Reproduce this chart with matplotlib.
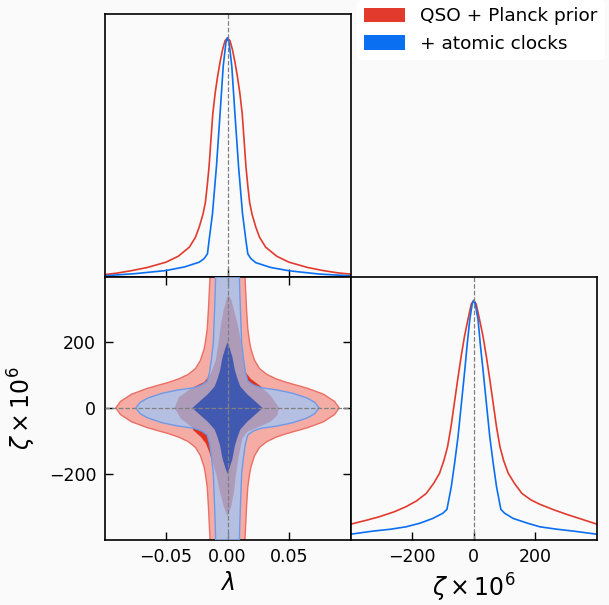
import numpy as np
import matplotlib
matplotlib.use('Agg')
import matplotlib.pyplot as plt
from matplotlib.patches import Patch

# colours
red_line = '#e23b2e'
blue_line = '#0a6ff0'
red_outer_fill = '#f4aca5'
red_outer_edge = '#ec6e64'
red_inner_fill = '#e0331f'
blue_outer_fill = '#99c8fc'
blue_outer_edge = '#6f9ae8'
blue_inner_fill = '#4259b1'
bg = '#fafafa'

labels = ['QSO + Planck prior', '+ atomic clocks']

# 1D marginal of lambda
lam_red = [-0.100, -0.090, -0.0775, -0.065, -0.050, -0.040, -0.031, -0.026, -0.023, -0.020,
           -0.018, -0.0165, -0.015, -0.0135, -0.012, -0.010, -0.008, -0.006, -0.004, -0.002,
           0.000,
           0.002, 0.004, 0.006, 0.008, 0.010, 0.012, 0.0135, 0.015, 0.0165, 0.018,
           0.020, 0.023, 0.026, 0.031, 0.040, 0.050, 0.065, 0.0775, 0.090, 0.100]
p_lam_red = [0.008, 0.014, 0.025, 0.038, 0.060, 0.085, 0.123, 0.165, 0.207, 0.260,
             0.310, 0.380, 0.460, 0.570, 0.680, 0.770, 0.840, 0.900, 0.951, 0.988,
             1.000,
             0.988, 0.951, 0.900, 0.840, 0.770, 0.680, 0.570, 0.460, 0.380, 0.310,
             0.260, 0.207, 0.165, 0.123, 0.085, 0.060, 0.038, 0.025, 0.015, 0.010]

lam_blue = [-0.100, -0.075, -0.050, -0.035, -0.023, -0.019, -0.0163, -0.0150, -0.0122,
            -0.0090, -0.0062, -0.0035, -0.0013, 0.000, 0.0013, 0.0035, 0.0062, 0.0090,
            0.0122, 0.0150, 0.0165, 0.019, 0.023, 0.035, 0.050, 0.075, 0.100]
p_lam_blue = [0.003, 0.012, 0.025, 0.040, 0.060, 0.075, 0.095, 0.150, 0.264,
              0.460, 0.670, 0.880, 0.980, 1.000, 0.980, 0.880, 0.670, 0.460,
              0.264, 0.150, 0.095, 0.075, 0.058, 0.038, 0.024, 0.010, 0.003]

# 1D marginal of zeta x 1e6
zeta_red = [-400, -350, -307, -260, -220, -185, -154, -130, -111, -97, -85, -74, -63,
            -52, -41, -30, -19, -8, 0,
            8, 19, 30, 41, 52, 63, 74, 85, 97, 112, 132, 156, 185, 215, 260, 302, 350, 400]
p_zeta_red = [0.064, 0.080, 0.095, 0.115, 0.137, 0.162, 0.193, 0.235, 0.277, 0.330, 0.388,
              0.470, 0.570, 0.670, 0.765, 0.850, 0.919, 0.985, 1.000,
              0.985, 0.919, 0.850, 0.765, 0.670, 0.570, 0.470, 0.388, 0.330, 0.277, 0.235,
              0.193, 0.166, 0.147, 0.124, 0.105, 0.085, 0.064]

zeta_blue = [-400, -328, -270, -220, -175, -133, -100, -87, -73, -62, -51, -40, -29, -21,
             -13, -5, 0,
             5, 14, 21, 30, 41, 52, 63, 74, 88, 100, 128, 175, 215, 270, 324, 400]
p_zeta_blue = [0.022, 0.035, 0.043, 0.053, 0.068, 0.088, 0.110, 0.126, 0.220, 0.320, 0.430,
               0.570, 0.710, 0.820, 0.919, 0.985, 1.000,
               0.985, 0.919, 0.820, 0.710, 0.570, 0.430, 0.320, 0.220, 0.126, 0.110, 0.088,
               0.068, 0.053, 0.043, 0.035, 0.022]

# 2D contours, one quadrant (lambda, zeta), mirrored about both axes
red_outer_lam = [0.0140, 0.0142, 0.0155, 0.0165, 0.0180, 0.0190, 0.0220, 0.0260, 0.0320,
                 0.0400, 0.0480, 0.0650, 0.0780, 0.0870, 0.0908]
red_outer_zeta = [430, 400, 300, 240, 200, 180, 145, 120, 102, 88, 78, 60, 42, 20, 0]

blue_outer_lam = [0.0095, 0.0100, 0.0105, 0.0115, 0.0130, 0.0145, 0.0165, 0.0210, 0.0270,
                  0.0400, 0.0530, 0.0650, 0.0710, 0.0745]
blue_outer_zeta = [430, 350, 300, 200, 150, 110, 82, 70, 62, 55, 45, 30, 17, 0]

blue_inner_lam = [0.0000, 0.0015, 0.0040, 0.0060, 0.0080, 0.0105, 0.0160, 0.0220, 0.0286]
blue_inner_zeta = [200, 185, 155, 115, 90, 65, 42, 22, 0]

# red 1-sigma contour is not symmetric: full outline, counter-clockwise from the top
red_inner_lam = [0.0005, -0.0030, -0.0055, -0.0072, -0.0095, -0.0136, -0.0190, -0.0300,
                 -0.0394, -0.0430, -0.0380, -0.0294, -0.0277, -0.0217, -0.0176, -0.0149,
                 -0.0125, -0.0090, -0.0065, -0.0030, 0.0000, 0.0030, 0.0055, 0.0068,
                 0.0093, 0.0120, 0.0160, 0.0256, 0.0350, 0.0405, 0.0420, 0.0405, 0.0350,
                 0.0270, 0.0188, 0.0147, 0.0128, 0.0110, 0.0085, 0.0055, 0.0030]
red_inner_zeta = [345, 300, 250, 200, 145, 104, 79, 59, 33, 0, -32, -57, -68, -88, -108,
                  -133, -160, -204, -250, -300, -330, -300, -250, -204, -143, -93, -73,
                  -57, -42, -22, 0, 8, 38, 66, 89, 109, 145, 205, 250, 295, 330]


def mirror(lam, zeta):
    lam = np.asarray(lam)
    zeta = np.asarray(zeta)
    x = np.concatenate([lam, lam[::-1], -lam, -lam[::-1]])
    y = np.concatenate([zeta, -zeta[::-1], -zeta, zeta[::-1]])
    return x, y


plt.rcParams['font.family'] = 'DejaVu Sans'
plt.rcParams['mathtext.fontset'] = 'dejavusans'

W, H = 609, 605
fig = plt.figure(figsize=(W / 100, H / 100), dpi=100, facecolor=bg)

x0, x1, x2 = 104.5, 350.5, 597.0
y0, y1, y2 = 14.0, 276.5, 539.5
ax_top = fig.add_axes([x0 / W, 1 - y1 / H, (x1 - x0) / W, (y1 - y0) / H])
ax_2d = fig.add_axes([x0 / W, 1 - y2 / H, (x1 - x0) / W, (y2 - y1) / H])
ax_right = fig.add_axes([x1 / W, 1 - y2 / H, (x2 - x1) / W, (y2 - y1) / H])

for ax in (ax_top, ax_2d, ax_right):
    ax.set_facecolor(bg)
    for s in ax.spines.values():
        s.set_linewidth(1.2)
        s.set_color('black')

lam_lim = (-0.1, 0.1)
zeta_lim = (-400, 400)
lam_ticks = [-0.05, 0.0, 0.05]
zeta_ticks = [-200, 0, 200]

# top panel: lambda marginal
ax_top.plot(lam_red, p_lam_red, color=red_line, lw=1.2)
ax_top.plot(lam_blue, p_lam_blue, color=blue_line, lw=1.2)
ax_top.axvline(0, color='grey', ls='--', lw=0.9)
ax_top.set_xlim(lam_lim)
ax_top.set_ylim(0, 1.1)
ax_top.set_xticks(lam_ticks)
ax_top.set_yticks([])
ax_top.tick_params(axis='x', direction='in', length=6, width=1, labelbottom=False)

# 2D panel
xr, yr = mirror(red_outer_lam, red_outer_zeta)
ax_2d.fill(xr, yr, facecolor=red_outer_fill, edgecolor=red_outer_edge, lw=1.0, zorder=1)
ax_2d.fill(red_inner_lam, red_inner_zeta, facecolor=red_inner_fill, edgecolor='none', zorder=2)
xb, yb = mirror(blue_outer_lam, blue_outer_zeta)
ax_2d.fill(xb, yb, facecolor=blue_outer_fill, alpha=0.7, edgecolor='none', zorder=3)
ax_2d.fill(xb, yb, facecolor='none', edgecolor=blue_outer_edge, lw=1.0, zorder=3)
xi, yi = mirror(blue_inner_lam, blue_inner_zeta)
ax_2d.fill(xi, yi, facecolor=blue_inner_fill, edgecolor='none', zorder=4)
ax_2d.axvline(0, color='grey', ls='--', lw=0.9, zorder=5)
ax_2d.axhline(0, color='grey', ls='--', lw=0.9, zorder=5)
ax_2d.set_xlim(lam_lim)
ax_2d.set_ylim(zeta_lim)
ax_2d.set_xticks(lam_ticks)
ax_2d.set_yticks(zeta_ticks)
ax_2d.set_xticklabels(['\u22120.05', '0.00', '0.05'])
ax_2d.set_yticklabels(['\u2212200', '0', '200'])
ax_2d.tick_params(direction='in', length=6, width=1, top=True, right=True,
                  labelsize=12.5, pad=6)
ax_2d.set_xlabel(r'$\lambda$', fontsize=17, labelpad=4)
ax_2d.set_ylabel(r'$\zeta\times10^6$', fontsize=17, labelpad=8)

# right panel: zeta marginal
ax_right.plot(zeta_red, p_zeta_red, color=red_line, lw=1.2)
ax_right.plot(zeta_blue, p_zeta_blue, color=blue_line, lw=1.2)
ax_right.axvline(0, color='grey', ls='--', lw=0.9)
ax_right.set_xlim(zeta_lim)
ax_right.set_ylim(0, 1.1)
ax_right.set_xticks(zeta_ticks)
ax_right.set_xticklabels(['\u2212200', '0', '200'])
ax_right.set_yticks([])
ax_right.tick_params(axis='x', direction='in', length=6, width=1, labelsize=12.5, pad=6)
ax_right.set_xlabel(r'$\zeta\times10^6$', fontsize=17, labelpad=4)

handles = [Patch(facecolor=red_line, edgecolor='none'),
           Patch(facecolor=blue_line, edgecolor='none')]
fig.legend(handles, labels, loc='upper left', bbox_to_anchor=(357 / W, 1.0),
           borderaxespad=0, fontsize=13.3, frameon=True, facecolor='white',
           edgecolor='none', framealpha=1, handlelength=2.2, handleheight=0.85,
           handletextpad=0.8, labelspacing=0.5)

fig.savefig('out.png', dpi=100, facecolor=bg)
